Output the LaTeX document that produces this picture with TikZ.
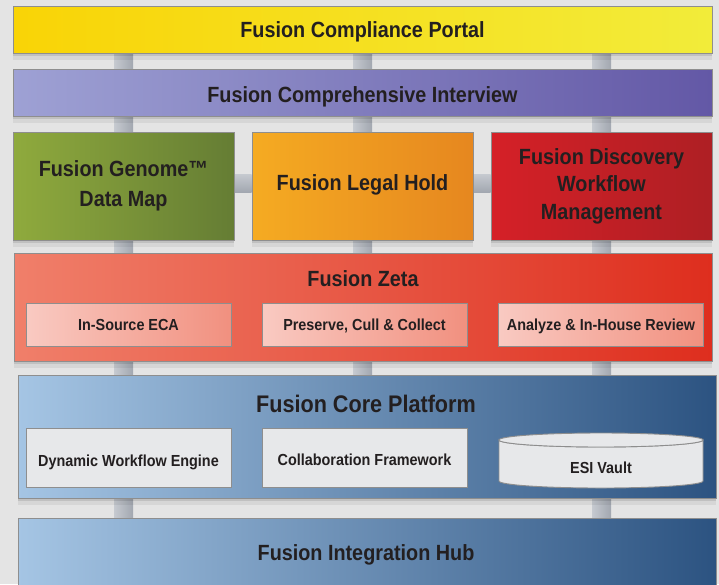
\documentclass[tikz,border=0pt]{standalone}
\usepackage{fontspec}
\setmainfont{Liberation Sans}[FakeStretch=0.9]
\usetikzlibrary{shadows,calc}
\pgfdeclarelayer{bg}
\pgfsetlayers{bg,main}
\definecolor{bgcol}{HTML}{E4E4E4}
\definecolor{bordercol}{HTML}{8E8E8E}
\definecolor{txtcol}{HTML}{231F20}
\definecolor{portalL}{HTML}{F9D406}
\definecolor{portalR}{HTML}{F2EC3A}
\definecolor{intL}{HTML}{9EA1D4}
\definecolor{intR}{HTML}{6358A6}
\definecolor{genL}{HTML}{8FAA3D}
\definecolor{genR}{HTML}{657D34}
\definecolor{legL}{HTML}{F5AB22}
\definecolor{legR}{HTML}{E6871F}
\definecolor{disL}{HTML}{D52027}
\definecolor{disR}{HTML}{AE1F24}
\definecolor{zetaL}{HTML}{F07F6A}
\definecolor{zetaR}{HTML}{DE2E1E}
\definecolor{zsubL}{HTML}{F9CAC2}
\definecolor{zsubR}{HTML}{F1907F}
\definecolor{coreL}{HTML}{A5C5E4}
\definecolor{coreR}{HTML}{2C5381}
\definecolor{csub}{HTML}{E7E8EA}
\definecolor{barL}{HTML}{C6CAD0}
\definecolor{barR}{HTML}{A2A7B0}
\begin{document}
\begin{tikzpicture}[x=1pt,y=-1pt,
  shadowed/.style={drop shadow={shadow xshift=0pt,shadow yshift=-3pt,opacity=0.10,fill=black},
                   drop shadow={shadow xshift=0pt,shadow yshift=-7pt,opacity=0.06,fill=black}},
  box/.style={draw=bordercol, line width=0.9pt, inner sep=0pt, align=center, text=txtcol,
              font=\bfseries\fontsize{22}{28}\selectfont, shadowed},
  onebox/.style={box, text height=15.8pt, text depth=0pt},
  subbox/.style={draw=bordercol, line width=0.9pt, inner sep=0pt, align=center, text=txtcol,
              font=\bfseries\fontsize{16}{19}\selectfont, minimum width=205pt, minimum height=43pt,
              text height=11.5pt, text depth=0pt},
  title/.style={text=txtcol, font=\bfseries\fontsize{22}{28}\selectfont, inner sep=0pt, anchor=base},
  vbar/.style={left color=barL, right color=barR},
  hbar/.style={top color=barL, bottom color=barR},
  cyl/.style={fill=csub, draw=bordercol, line width=0.9pt}
]
\useasboundingbox (0,0) rectangle (719,584);
% top layers
\node[onebox, minimum width=699pt, minimum height=47pt, left color=portalL, right color=portalR]
  (portal) at (362.5,29.5) {Fusion Compliance Portal};
\node[onebox, minimum width=699pt, minimum height=47pt, left color=intL, right color=intR, text height=20pt]
  (interview) at (362.5,92.5) {Fusion Comprehensive Interview};
% application row
\node[box, minimum width=221pt, minimum height=108pt, left color=genL, right color=genR,
      font=\bfseries\fontsize{22}{30}\selectfont]
  (genome) at (123.5,186) {Fusion Genome™\\Data Map};
\node[onebox, minimum width=221pt, minimum height=108pt, left color=legL, right color=legR, text depth=7pt]
  (legal) at (362.5,186) {Fusion Legal Hold};
\node[box, minimum width=221pt, minimum height=108pt, left color=disL, right color=disR,
      font=\bfseries\fontsize{22}{27.5}\selectfont]
  (discovery) at (601.5,186) {Fusion Discovery\\Workflow\\Management};
% Zeta
\node[box, minimum width=698pt, minimum height=108pt, left color=zetaL, right color=zetaR]
  (zeta) at (363,307) {};
\node[title] (zetatitle) at (363,286.7) {Fusion Zeta};
\node[subbox, left color=zsubL, right color=zsubR] (eca) at (128.5,324.5) {In-Source ECA};
\node[subbox, left color=zsubL, right color=zsubR] (pcc) at (364.5,324.5) {Preserve, Cull \& Collect};
\node[subbox, left color=zsubL, right color=zsubR] (air) at (601,324.5) {Analyze \& In-House Review};
% Core platform
\node[box, minimum width=698pt, minimum height=123pt, left color=coreL, right color=coreR]
  (core) at (367,436.5) {};
\node[title, font=\bfseries\fontsize{24}{28}\selectfont] (coretitle) at (366,412) {Fusion Core Platform};
\node[subbox, fill=csub, minimum height=59pt, text height=18.5pt] (dwe) at (128.5,457.5) {Dynamic Workflow Engine};
\node[subbox, fill=csub, minimum height=59pt, text height=15.5pt] (colf) at (364.5,457.5) {Collaboration Framework};
\path[cyl] (499,440) -- (499,481) arc[start angle=180, end angle=0, x radius=102, y radius=7]
  -- (703,440) arc[start angle=0, end angle=180, x radius=102, y radius=7] -- cycle;
\path[cyl] (601,440) ellipse[x radius=102, y radius=7];
\node[title, font=\bfseries\fontsize{16}{19}\selectfont] (esi) at (601,473.3) {ESI Vault};
% Integration hub
\node[box, minimum width=698pt, minimum height=72pt, left color=coreL, right color=coreR]
  (hub) at (367,554) {};
\node[title] (hubtitle) at (366,560) {Fusion Integration Hub};
% connectors (behind)
\begin{pgfonlayer}{bg}
\fill[bgcol] (0,0) rectangle (719,584);
\foreach \c in {genome,legal,discovery}{
  \path[vbar] ($(portal.south -| \c)+(-9.5,0)$) rectangle ($(interview.north -| \c)+(9.5,0)$);
  \path[vbar] ($(interview.south -| \c)+(-9.5,0)$) rectangle ($(\c.north)+(9.5,0)$);
  \path[vbar] ($(\c.south)+(-9.5,0)$) rectangle ($(zeta.north -| \c)+(9.5,0)$);
  \path[vbar] ($(zeta.south -| \c)+(-9.5,0)$) rectangle ($(core.north -| \c)+(9.5,0)$);
}
\foreach \c in {genome,discovery}{
  \path[vbar] ($(core.south -| \c)+(-9.5,0)$) rectangle ($(hub.north -| \c)+(9.5,0)$);
}
\path[hbar] ($(genome.east)+(0,-12)$) rectangle ($(legal.west)+(0,6)$);
\path[hbar] ($(legal.east)+(0,-12)$) rectangle ($(discovery.west)+(0,6)$);
\end{pgfonlayer}
\end{tikzpicture}
\end{document}
